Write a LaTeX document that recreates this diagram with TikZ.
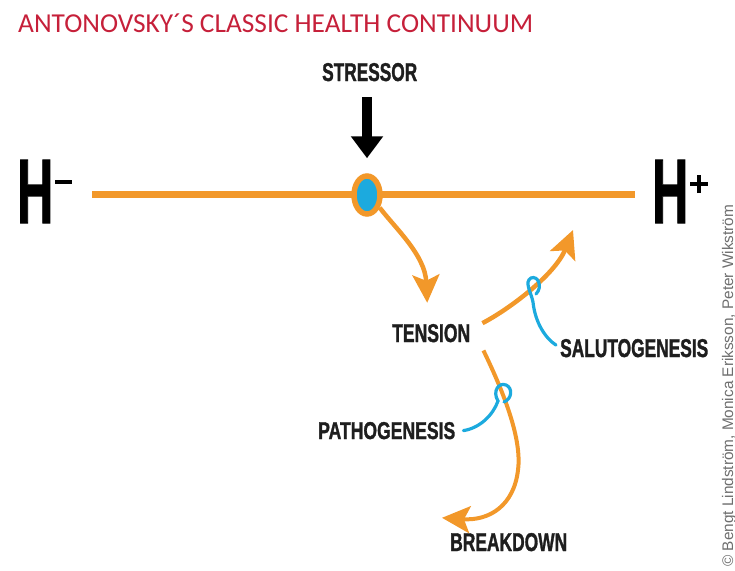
\documentclass[tikz,border=0pt]{standalone}
\usepackage{fontspec}
\setmainfont{Liberation Sans}
\newfontfamily\titlefont{Carlito}
\newfontfamily\heavyfont{Liberation Sans Bold}[FakeBold=1.6]
\usetikzlibrary{arrows.meta,shapes.geometric}

\definecolor{orng}{RGB}{242,152,42}
\definecolor{dotblue}{RGB}{28,170,222}
\definecolor{titlered}{RGB}{198,32,58}
\definecolor{ink}{RGB}{30,30,30}
\definecolor{credit}{RGB}{110,110,110}

% heavy condensed caption of a given width and cap height
\newcommand{\caplabel}[3]{\resizebox{#1}{#2}{\heavyfont #3}}

\tikzset{
  lbl/.style={inner sep=0pt, anchor=base west, text=ink},
  flow/.style={draw=orng, line width=4.5pt,
    -{Stealth[length=28pt,width=27pt,inset=6pt]}},
  curl/.style={draw=dotblue, line width=3.2pt, line cap=round},
}

\begin{document}
\begin{tikzpicture}[x=1pt,y=-1pt]
\useasboundingbox (0,0) rectangle (735,570);

% heading
\node[inner sep=0pt, anchor=base west, text=titlered] (title) at (18,32)
  {\resizebox{515pt}{!}{\titlefont ANTONOVSKY´S CLASSIC HEALTH CONTINUUM}};

% poles of the continuum
\node[lbl, text=black] (hminus) at (17,223)
  {\resizebox{36pt}{63pt}{\heavyfont H}\hspace{2pt}\raisebox{39pt}{\rule{17pt}{4pt}}};
\node[lbl, text=black] (hplus) at (652,223)
  {\resizebox{36pt}{63pt}{\heavyfont H}\hspace{2pt}\raisebox{37pt}{\rule{18pt}{4pt}}\hspace{-11pt}\raisebox{30pt}{\rule{4pt}{18pt}}\hspace{7pt}};

\coordinate (lstart) at (92,194);
\coordinate (lend) at (635,194);
\draw[orng, line width=7pt] (lstart) -- (lend);

% position on the continuum
\node[ellipse, draw=orng, fill=dotblue, line width=5.5pt, inner sep=0pt,
      minimum width=26pt, minimum height=38pt] (dot) at (367,195) {};

% labels
\node[lbl] (stressor) at (322,81) {\caplabel{95pt}{18pt}{STRESSOR}};
\node[lbl] (tension)  at (392,342) {\caplabel{78pt}{18pt}{TENSION}};
\node[lbl] (salut)    at (560,357) {\caplabel{148pt}{18pt}{SALUTOGENESIS}};
\node[lbl] (patho)    at (318,439) {\caplabel{137pt}{17pt}{PATHOGENESIS}};
\node[lbl] (breakdown) at (450,551) {\caplabel{117pt}{18pt}{BREAKDOWN}};

% stressor acting on the position
\draw[black, line width=9.5pt, -{Triangle[length=22pt,width=31pt]}]
  ([yshift=-16pt]stressor.south -| dot.center) -- ([yshift=15pt]dot.north);

% stressor leads to tension
\draw[flow] (dot.-45) .. controls (396,229) and (425,255) ..
  ([xshift=-4pt,yshift=21pt]tension.north);

% tension resolved towards health
\coordinate (upend) at (573,230);
\draw[flow] ([xshift=12pt,yshift=10pt]tension.east)
  .. controls (508,310) and (555,275) .. (upend);

% tension turning into breakdown
\draw[flow, line width=4pt] ([xshift=13pt,yshift=-8pt]tension.south east)
  .. controls (505,395) and (522,440) .. (518,470)
  .. controls (514,505) and (490,521) .. ([xshift=-8pt,yshift=15pt]breakdown.north west);

% curls tying the labels to their arrows
\draw[curl] ([xshift=-4pt,yshift=3pt]salut.west)
  .. controls (545,338) and (535,322) .. (533,302)
  .. controls (531,292) and (524,282) .. (531,278)
  .. controls (538,275) and (543,287) .. (536,294);
\draw[curl] ([xshift=8pt]patho.east)
  .. controls (480,428) and (493,415) .. (498,401)
  .. controls (492,391) and (499,382) .. (506,385)
  .. controls (513,388) and (512,399) .. (504,402);

% credit line
\node[inner sep=0pt, anchor=base west, rotate=90, text=credit] (credit) at (733,567)
  {\resizebox{362pt}{!}{© Bengt Lindström, Monica Eriksson, Peter Wikström}};
\end{tikzpicture}
\end{document}
